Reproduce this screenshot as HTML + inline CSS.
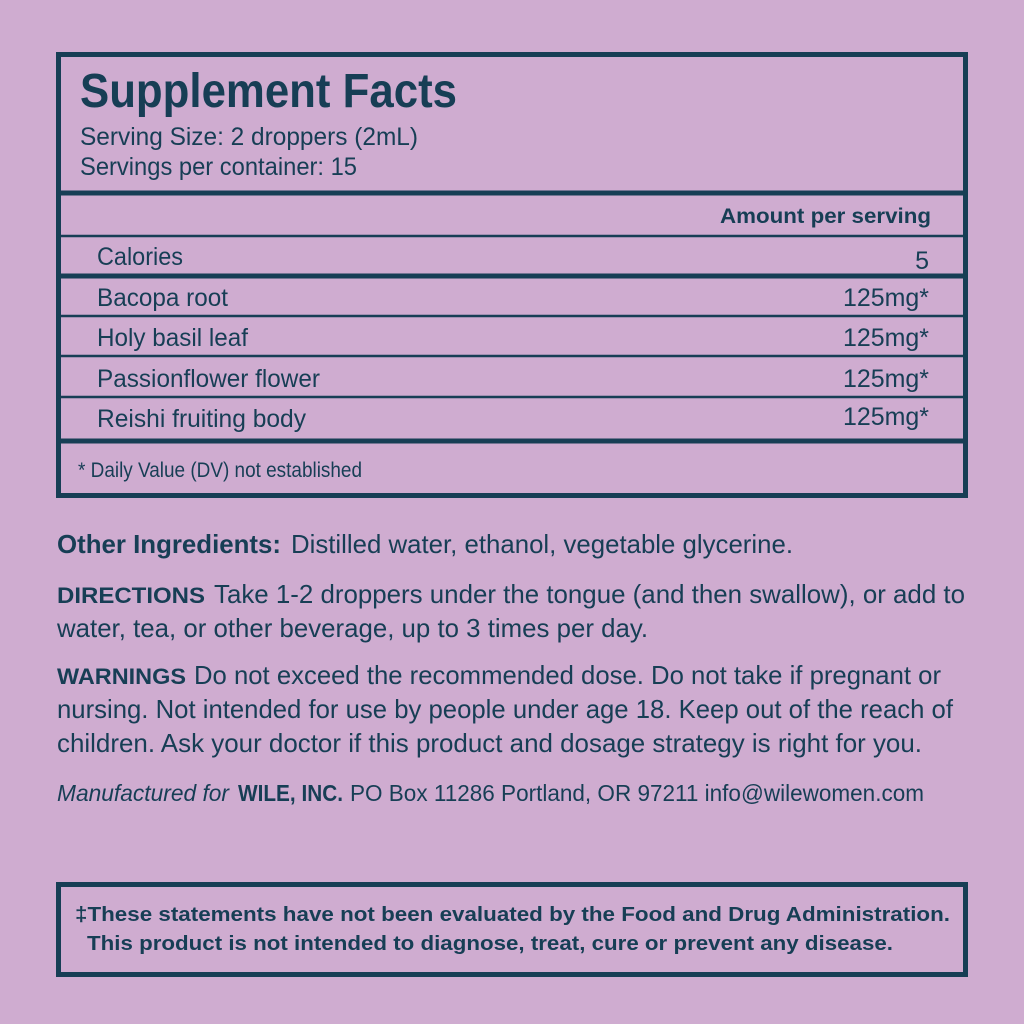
<!DOCTYPE html><html><head><style>html,body{margin:0;padding:0;background:#cfacd0;width:1024px;height:1024px;overflow:hidden}</style></head><body>
<svg width="1024" height="1024" xmlns="http://www.w3.org/2000/svg" font-family="Liberation Sans Narrow, Liberation Sans, sans-serif" fill="#173e55">
<rect width="1024" height="1024" fill="#cfacd0"/>
<g fill="none" stroke="#173e55">
<rect x="58.5" y="54.5" width="907" height="441" stroke-width="5"/>
<line x1="58" y1="193" x2="966" y2="193" stroke-width="5"/>
<line x1="58" y1="236" x2="966" y2="236" stroke-width="2.5"/>
<line x1="58" y1="276" x2="966" y2="276" stroke-width="5"/>
<line x1="58" y1="316" x2="966" y2="316" stroke-width="2.5"/>
<line x1="58" y1="356" x2="966" y2="356" stroke-width="2.5"/>
<line x1="58" y1="397" x2="966" y2="397" stroke-width="2.5"/>
<line x1="58" y1="441" x2="966" y2="441" stroke-width="5"/>
<rect x="58.5" y="884.5" width="907" height="90" stroke-width="5"/>
</g>
<text x="80" y="107" font-size="48" font-weight="bold" textLength="377" lengthAdjust="spacingAndGlyphs">Supplement Facts</text>
<text x="80" y="145" font-size="25" textLength="338" lengthAdjust="spacingAndGlyphs">Serving Size: 2 droppers (2mL)</text>
<text x="80" y="175" font-size="25" textLength="277" lengthAdjust="spacingAndGlyphs">Servings per container: 15</text>
<text x="720" y="223" font-size="21" font-weight="bold" textLength="211" lengthAdjust="spacingAndGlyphs">Amount per serving</text>
<g font-size="25">
<text x="97" y="265" textLength="86" lengthAdjust="spacingAndGlyphs">Calories</text>
<text x="929" y="269" text-anchor="end">5</text>
<text x="97" y="306" textLength="131" lengthAdjust="spacingAndGlyphs">Bacopa root</text>
<text x="843" y="306" textLength="86" lengthAdjust="spacingAndGlyphs">125mg*</text>
<text x="97" y="346" textLength="151" lengthAdjust="spacingAndGlyphs">Holy basil leaf</text>
<text x="843" y="346" textLength="86" lengthAdjust="spacingAndGlyphs">125mg*</text>
<text x="97" y="387" textLength="223" lengthAdjust="spacingAndGlyphs">Passionflower flower</text>
<text x="843" y="387" textLength="86" lengthAdjust="spacingAndGlyphs">125mg*</text>
<text x="97" y="427" textLength="209" lengthAdjust="spacingAndGlyphs">Reishi fruiting body</text>
<text x="843" y="425" textLength="86" lengthAdjust="spacingAndGlyphs">125mg*</text>
</g>
<text x="78" y="477" font-size="21" textLength="284" lengthAdjust="spacingAndGlyphs">* Daily Value (DV) not established</text>
<g font-size="26">
<text x="57" y="553" font-weight="bold" textLength="224" lengthAdjust="spacingAndGlyphs">Other Ingredients:</text>
<text x="291" y="553" textLength="502" lengthAdjust="spacingAndGlyphs">Distilled water, ethanol, vegetable glycerine.</text>
<text x="57" y="603" font-weight="bold" font-size="22" textLength="148" lengthAdjust="spacingAndGlyphs">DIRECTIONS</text>
<text x="214" y="603" textLength="751" lengthAdjust="spacingAndGlyphs">Take 1-2 droppers under the tongue (and then swallow), or add to</text>
<text x="57" y="637" textLength="591" lengthAdjust="spacingAndGlyphs">water, tea, or other beverage, up to 3 times per day.</text>
<text x="57" y="684" font-weight="bold" font-size="22" textLength="129" lengthAdjust="spacingAndGlyphs">WARNINGS</text>
<text x="194" y="684" textLength="747" lengthAdjust="spacingAndGlyphs">Do not exceed the recommended dose. Do not take if pregnant or</text>
<text x="57" y="718" textLength="896" lengthAdjust="spacingAndGlyphs">nursing. Not intended for use by people under age 18. Keep out of the reach of</text>
<text x="57" y="752" textLength="865" lengthAdjust="spacingAndGlyphs">children. Ask your doctor if this product and dosage strategy is right for you.</text>
</g>
<g font-size="23">
<text x="57" y="801" font-style="italic" textLength="172" lengthAdjust="spacingAndGlyphs">Manufactured for</text>
<text x="238" y="801" font-weight="bold" textLength="105" lengthAdjust="spacingAndGlyphs">WILE, INC.</text>
<text x="350" y="801" textLength="574" lengthAdjust="spacingAndGlyphs">PO Box 11286 Portland, OR 97211  info@wilewomen.com</text>
</g>
<g font-size="20" font-weight="bold">
<text x="75" y="921" textLength="875" lengthAdjust="spacingAndGlyphs">‡These statements have not been evaluated by the Food and Drug Administration.</text>
<text x="87" y="950" textLength="806" lengthAdjust="spacingAndGlyphs">This product is not intended to diagnose, treat, cure or prevent any disease.</text>
</g>
</svg>
</body></html>
